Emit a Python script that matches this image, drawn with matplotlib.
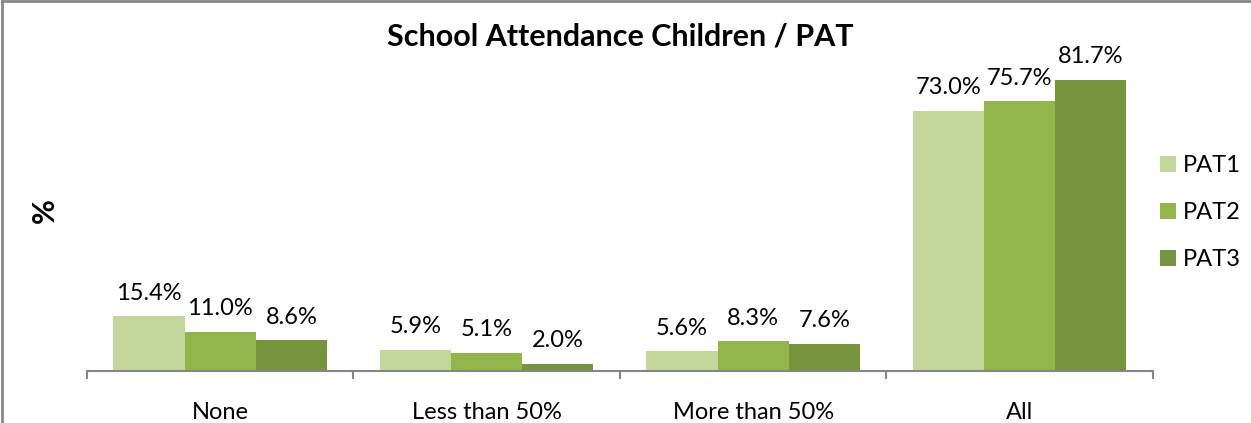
import matplotlib.pyplot as plt
import numpy as np
from matplotlib.lines import Line2D

plt.rcParams['font.family'] = ['Lato', 'DejaVu Sans']

# attendance shares per PAT round
categories = ["None", "Less than 50%", "More than 50%", "All"]
series_names = ["PAT1", "PAT2", "PAT3"]
pat1 = [15.4, 5.9, 5.6, 73.0]
pat2 = [11.0, 5.1, 8.3, 75.7]
pat3 = [8.6, 2.0, 7.6, 81.7]
colors = ["#C4D79B", "#94B44C", "#77933C"]

fig = plt.figure(figsize=(12.51, 4.23), dpi=100)
ax = fig.add_axes([0.0695, 0.1229, 0.8521, 0.758])

x = np.arange(len(categories))
w = 0.267
for i, (name, vals) in enumerate(zip(series_names, [pat1, pat2, pat3])):
    bars = ax.bar(x + (i - 1) * w, vals, width=w, color=colors[i], label=name)
    for b, v in zip(bars, vals):
        ax.annotate(f"{v:.1f}%", (b.get_x() + b.get_width() / 2, v),
                    xytext=(0, 9), textcoords="offset points",
                    ha="center", va="bottom", fontsize=17)

ax.set_xlim(-0.5, 3.5)
ax.set_ylim(0, 90)
ax.set_yticks([])
for s in ["top", "right", "left"]:
    ax.spines[s].set_visible(False)
ax.spines["bottom"].set_color("#868686")
ax.spines["bottom"].set_linewidth(1.5)

ax.set_xticks(x)
ax.set_xticklabels(categories, fontsize=17)
ax.tick_params(axis="x", which="major", length=0, pad=22)
ax.set_xticks(np.arange(-0.5, 4.0, 1.0), minor=True)
ax.tick_params(axis="x", which="minor", length=6, width=1.5, color="#868686")

ax.set_title("School Attendance Children / PAT", fontsize=22, fontweight="bold", pad=3)
ax.set_ylabel("%", fontsize=22, fontweight="bold", labelpad=20)

ax.legend(loc="center left", bbox_to_anchor=(0.996, 0.493), frameon=False,
          fontsize=17, borderpad=0, handlelength=0.64, handleheight=0.64,
          handletextpad=0.3, labelspacing=1.1)

# outer frame (top and left edges)
fig.add_artist(Line2D([0.0016, 0.0016], [0, 0.998], transform=fig.transFigure,
                      color="#888888", lw=2))
fig.add_artist(Line2D([0.0016, 1], [0.997, 0.997], transform=fig.transFigure,
                      color="#888888", lw=2))

fig.savefig("out.png", dpi=100)
